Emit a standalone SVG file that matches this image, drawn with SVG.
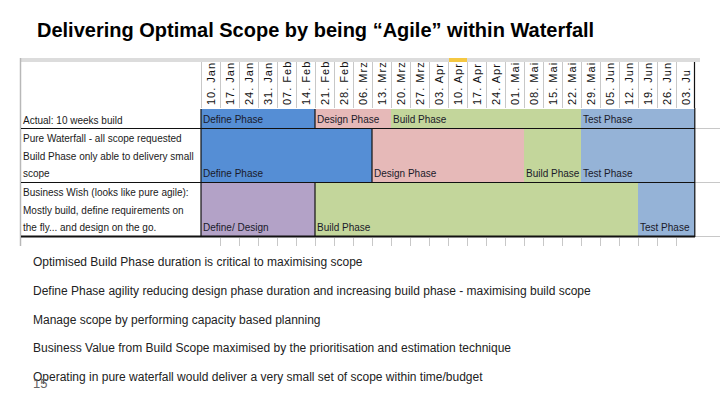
<svg xmlns="http://www.w3.org/2000/svg" width="720" height="405" viewBox="0 0 720 405">
<defs>
<style>
.title{font-family:"Liberation Sans",Arial,sans-serif;font-weight:bold;font-size:20px;fill:#000}
.lbl{font-family:"Liberation Sans",Arial,sans-serif;font-size:10px;fill:#1a1a1a}
.ph{font-family:"Liberation Sans",Arial,sans-serif;font-size:10px;fill:#1a1a2a}
.dt{font-family:"Liberation Sans",Arial,sans-serif;font-size:11px;letter-spacing:1px;fill:#111}
.bul{font-family:"Liberation Sans",Arial,sans-serif;font-size:12px;fill:#222}
.grid{stroke:#c8c8c8;stroke-width:1}
.sep{stroke:#111;stroke-width:1.2}
.def{fill:#558ED5}.des{fill:#E6B9B8}.bld{fill:#C3D69B}.tst{fill:#95B3D7}.dd{fill:#B3A2C7}
</style>
<clipPath id="hdr"><rect x="201" y="62" width="494" height="46"/></clipPath>
</defs>
<rect width="720" height="405" fill="#fff"/>
<text class="title" x="37" y="37">Delivering Optimal Scope by being “Agile” within Waterfall</text>

<g id="table-frame">
<rect x="20" y="58" width="680" height="4" fill="#dcdcdc"/>
<rect x="449" y="58" width="18" height="4" fill="#f5c842"/>
<line x1="20.5" y1="58" x2="20.5" y2="246" stroke="#b8b8b8" stroke-width="1.5"/>
<g class="grid">
<line x1="201.5" y1="62" x2="201.5" y2="108"/><line x1="220.5" y1="62" x2="220.5" y2="108"/><line x1="239.5" y1="62" x2="239.5" y2="108"/><line x1="258.5" y1="62" x2="258.5" y2="108"/><line x1="277.5" y1="62" x2="277.5" y2="108"/><line x1="296.5" y1="62" x2="296.5" y2="108"/><line x1="315.5" y1="62" x2="315.5" y2="108"/><line x1="334.5" y1="62" x2="334.5" y2="108"/><line x1="353.5" y1="62" x2="353.5" y2="108"/><line x1="372.5" y1="62" x2="372.5" y2="108"/><line x1="391.5" y1="62" x2="391.5" y2="108"/><line x1="410.5" y1="62" x2="410.5" y2="108"/><line x1="429.5" y1="62" x2="429.5" y2="108"/><line x1="448.5" y1="62" x2="448.5" y2="108"/><line x1="467.5" y1="62" x2="467.5" y2="108"/><line x1="486.5" y1="62" x2="486.5" y2="108"/><line x1="505.5" y1="62" x2="505.5" y2="108"/><line x1="524.5" y1="62" x2="524.5" y2="108"/><line x1="543.5" y1="62" x2="543.5" y2="108"/><line x1="562.5" y1="62" x2="562.5" y2="108"/><line x1="581.5" y1="62" x2="581.5" y2="108"/><line x1="600.5" y1="62" x2="600.5" y2="108"/><line x1="619.5" y1="62" x2="619.5" y2="108"/><line x1="638.5" y1="62" x2="638.5" y2="108"/><line x1="657.5" y1="62" x2="657.5" y2="108"/><line x1="676.5" y1="62" x2="676.5" y2="108"/>
<line x1="220.5" y1="238" x2="220.5" y2="246"/><line x1="239.5" y1="238" x2="239.5" y2="246"/><line x1="258.5" y1="238" x2="258.5" y2="246"/><line x1="277.5" y1="238" x2="277.5" y2="246"/><line x1="296.5" y1="238" x2="296.5" y2="246"/><line x1="315.5" y1="238" x2="315.5" y2="246"/><line x1="334.5" y1="238" x2="334.5" y2="246"/><line x1="353.5" y1="238" x2="353.5" y2="246"/><line x1="372.5" y1="238" x2="372.5" y2="246"/><line x1="391.5" y1="238" x2="391.5" y2="246"/><line x1="410.5" y1="238" x2="410.5" y2="246"/><line x1="429.5" y1="238" x2="429.5" y2="246"/><line x1="448.5" y1="238" x2="448.5" y2="246"/><line x1="467.5" y1="238" x2="467.5" y2="246"/><line x1="486.5" y1="238" x2="486.5" y2="246"/><line x1="505.5" y1="238" x2="505.5" y2="246"/><line x1="524.5" y1="238" x2="524.5" y2="246"/><line x1="543.5" y1="238" x2="543.5" y2="246"/><line x1="562.5" y1="238" x2="562.5" y2="246"/><line x1="581.5" y1="238" x2="581.5" y2="246"/><line x1="600.5" y1="238" x2="600.5" y2="246"/><line x1="619.5" y1="238" x2="619.5" y2="246"/><line x1="638.5" y1="238" x2="638.5" y2="246"/><line x1="657.5" y1="238" x2="657.5" y2="246"/><line x1="676.5" y1="238" x2="676.5" y2="246"/>
<line x1="695" y1="128.5" x2="720" y2="128.5"/><line x1="695" y1="182.5" x2="720" y2="182.5"/><line x1="695" y1="236.5" x2="720" y2="236.5"/>
</g>
<line x1="694.5" y1="62" x2="694.5" y2="108" stroke="#111" stroke-width="1.2"/>
</g>

<g id="dates" clip-path="url(#hdr)">
<text class="dt" transform="translate(214.5,105) rotate(-90)">10. Jan</text>
<text class="dt" transform="translate(233.5,105) rotate(-90)">17. Jan</text>
<text class="dt" transform="translate(252.5,105) rotate(-90)">24. Jan</text>
<text class="dt" transform="translate(271.5,105) rotate(-90)">31. Jan</text>
<text class="dt" transform="translate(290.5,105) rotate(-90)">07. Feb</text>
<text class="dt" transform="translate(309.5,105) rotate(-90)">14. Feb</text>
<text class="dt" transform="translate(328.5,105) rotate(-90)">21. Feb</text>
<text class="dt" transform="translate(347.5,105) rotate(-90)">28. Feb</text>
<text class="dt" transform="translate(366.5,105) rotate(-90)">06. Mrz</text>
<text class="dt" transform="translate(385.5,105) rotate(-90)">13. Mrz</text>
<text class="dt" transform="translate(404.5,105) rotate(-90)">20. Mrz</text>
<text class="dt" transform="translate(423.5,105) rotate(-90)">27. Mrz</text>
<text class="dt" transform="translate(442.5,105) rotate(-90)">03. Apr</text>
<text class="dt" transform="translate(461.5,105) rotate(-90)">10. Apr</text>
<text class="dt" transform="translate(480.5,105) rotate(-90)">17. Apr</text>
<text class="dt" transform="translate(499.5,105) rotate(-90)">24. Apr</text>
<text class="dt" transform="translate(518.5,105) rotate(-90)">01. Mai</text>
<text class="dt" transform="translate(537.5,105) rotate(-90)">08. Mai</text>
<text class="dt" transform="translate(556.5,105) rotate(-90)">15. Mai</text>
<text class="dt" transform="translate(575.5,105) rotate(-90)">22. Mai</text>
<text class="dt" transform="translate(594.5,105) rotate(-90)">29. Mai</text>
<text class="dt" transform="translate(613.5,105) rotate(-90)">05. Jun</text>
<text class="dt" transform="translate(632.5,105) rotate(-90)">12. Jun</text>
<text class="dt" transform="translate(651.5,105) rotate(-90)">19. Jun</text>
<text class="dt" transform="translate(670.5,105) rotate(-90)">26. Jun</text>
<text class="dt" transform="translate(689.5,105) rotate(-90)">03. Ju</text>
</g>

<g id="row-actual">
<rect class="def" x="201" y="109" width="114" height="19"/>
<rect class="des" x="315" y="109" width="76" height="19"/>
<rect class="bld" x="391" y="109" width="190" height="19"/>
<rect class="tst" x="581" y="109" width="114" height="19"/>
<line class="sep" x1="315" y1="109" x2="315" y2="128"/>
<text class="lbl" x="23" y="124">Actual: 10 weeks build</text>
<text class="ph" x="203" y="123">Define Phase</text>
<text class="ph" x="317" y="123">Design Phase</text>
<text class="ph" x="393" y="123">Build Phase</text>
<text class="ph" x="583" y="123">Test Phase</text>
</g>

<g id="row-waterfall">
<rect class="def" x="201" y="129" width="171" height="53"/>
<rect class="des" x="372" y="129" width="152" height="53"/>
<rect class="bld" x="524" y="129" width="57" height="53"/>
<rect class="tst" x="581" y="129" width="114" height="53"/>
<line class="sep" x1="372" y1="129" x2="372" y2="182"/>
<text class="lbl" x="23" y="142">Pure Waterfall - all scope requested</text>
<text class="lbl" x="23" y="160">Build Phase only able to delivery small</text>
<text class="lbl" x="23" y="177">scope</text>
<text class="ph" x="203" y="177">Define Phase</text>
<text class="ph" x="374" y="177">Design Phase</text>
<text class="ph" x="526" y="177">Build Phase</text>
<text class="ph" x="583" y="177">Test Phase</text>
</g>

<g id="row-business-wish">
<rect class="dd" x="201" y="183" width="114" height="53"/>
<rect class="bld" x="315" y="183" width="323" height="53"/>
<rect class="tst" x="638" y="183" width="57" height="53"/>
<line class="sep" x1="315" y1="183" x2="315" y2="236"/>
<text class="lbl" x="23" y="196">Business Wish (looks like pure agile):</text>
<text class="lbl" x="23" y="214">Mostly build, define requirements on</text>
<text class="lbl" x="23" y="231">the fly... and design on the go.</text>
<text class="ph" x="203" y="231">Define/ Design</text>
<text class="ph" x="317" y="231">Build Phase</text>
<text class="ph" x="640" y="231">Test Phase</text>
</g>

<g id="table-lines">
<line class="sep" x1="21" y1="128.5" x2="695" y2="128.5"/>
<line class="sep" x1="21" y1="182.5" x2="695" y2="182.5"/>
<line x1="21" y1="236.5" x2="695" y2="236.5" stroke="#111" stroke-width="2"/>
<line class="sep" x1="201" y1="109" x2="201" y2="236"/>
<line class="sep" x1="694.8" y1="108" x2="694.8" y2="237"/>
</g>

<g id="bullets">
<text class="bul" x="33" y="266">Optimised Build Phase duration is critical to maximising scope</text>
<text class="bul" x="33" y="295">Define Phase agility reducing design phase duration and increasing build phase - maximising build scope</text>
<text class="bul" x="33" y="324">Manage scope by performing capacity based planning</text>
<text class="bul" x="33" y="352">Business Value from Build Scope maximised by the prioritisation and estimation technique</text>
<text class="bul" x="33" y="381">Operating in pure waterfall would deliver a very small set of scope within time/budget</text>
</g>
<text x="33" y="388" font-family="'Liberation Sans',Arial,sans-serif" font-size="13" fill="#666">15</text>
</svg>
